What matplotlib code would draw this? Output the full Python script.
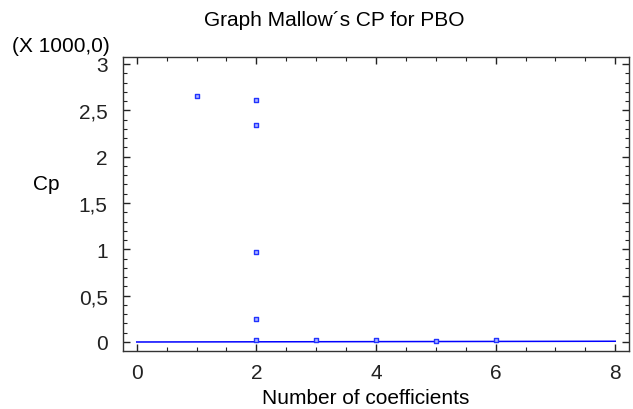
import numpy as np
import matplotlib.pyplot as plt
from matplotlib.ticker import MultipleLocator, FuncFormatter

plt.rcParams['font.family'] = ['Liberation Sans', 'DejaVu Sans']

# number of coefficients and Mallow's Cp (in thousands)
n_coef = [1, 2, 2, 2, 2, 2, 3, 4, 5, 6]
cp_vals = [2.65, 2.615, 2.34, 0.973, 0.251, 0.025, 0.02, 0.02, 0.006, 0.02]

# reference line Cp = p
line_x = [0, 8]
line_y = [0.0, 0.008]


def comma_fmt(v, pos):
    s = ('%g' % v).replace('.', ',')
    return s


def main():
    fig = plt.figure(figsize=(6.33, 4.10), dpi=100)
    ax = fig.add_axes([0.1943, 0.1415, 0.7994, 0.717])

    ax.plot(line_x, line_y, color='#0000ff', lw=1.1)
    ax.scatter(n_coef, cp_vals, marker='s', s=12, facecolors='#b0b8ff',
               edgecolors='#2233ff', linewidths=1.0, zorder=3)

    ax.set_xlim(-0.23, 8.23)
    ax.set_ylim(-0.097, 3.075)
    ax.xaxis.set_major_locator(MultipleLocator(2))
    ax.xaxis.set_minor_locator(MultipleLocator(0.5))
    ax.yaxis.set_major_locator(MultipleLocator(0.5))
    ax.yaxis.set_minor_locator(MultipleLocator(0.1))
    ax.yaxis.set_major_formatter(FuncFormatter(comma_fmt))

    ax.tick_params(which='both', direction='in', top=True, right=True,
                   labelsize=15, colors='#222222')
    ax.tick_params(axis='x', which='major', pad=9)
    ax.tick_params(axis='y', which='major', pad=11)
    ax.tick_params(which='major', length=5, width=1)
    ax.tick_params(which='minor', length=3, width=0.8)
    for sp in ax.spines.values():
        sp.set_color('#333333')
        sp.set_linewidth(1.0)

    fig.text(0.528, 0.951, "Graph Mallow\u00b4s CP for PBO", fontsize=15,
             ha='center', va='center')
    fig.text(0.578, 0.029, "Number of coefficients", fontsize=15,
             ha='center', va='center')
    fig.text(0.0727, 0.549, "Cp", fontsize=15, ha='center', va='center')
    fig.text(0.019, 0.873, "(X 1000,0)", fontsize=15, va='baseline')

    fig.savefig("out.png", dpi=100)


if __name__ == "__main__":
    main()
